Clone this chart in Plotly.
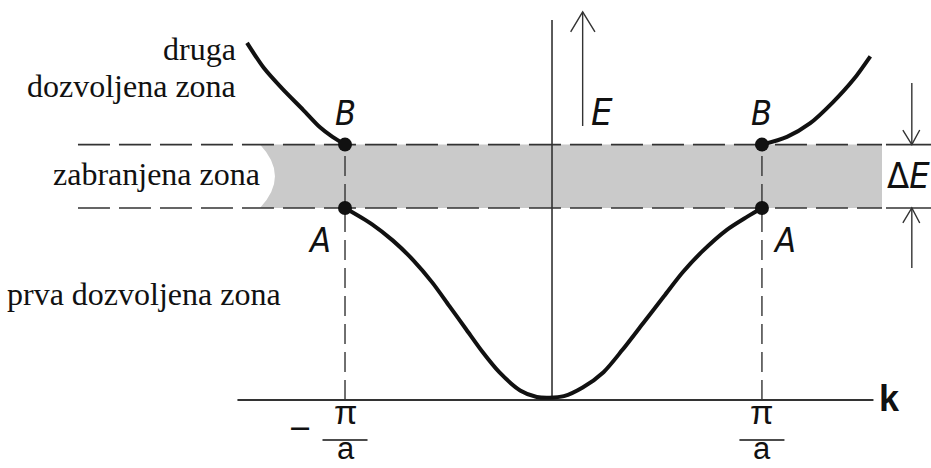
import plotly.graph_objects as go

# Wave vector k in units of pi/a, energy E in units of the top of the first band
k_lower = [-1.00, -0.87, -0.77, -0.67, -0.58, -0.50, -0.42, -0.34, -0.26, -0.16, -0.08, -0.02,
           0.05, 0.14, 0.24, 0.33, 0.43, 0.53, 0.62, 0.71, 0.83, 0.93, 1.00]
E_lower = [1.00, 0.915, 0.83, 0.725, 0.61, 0.49, 0.37, 0.25, 0.145, 0.05, 0.016, 0.012,
           0.02, 0.065, 0.145, 0.26, 0.40, 0.54, 0.665, 0.77, 0.885, 0.955, 1.00]

k_upper_left = [-1.47, -1.39, -1.30, -1.20, -1.12, -1.06, -1.00]
E_upper_left = [1.86, 1.73, 1.62, 1.51, 1.42, 1.37, 1.33]

k_upper_right = [1.00, 1.12, 1.23, 1.34, 1.44, 1.52]
E_upper_right = [1.33, 1.37, 1.44, 1.55, 1.67, 1.79]

E_A = 1.00          # top of the first allowed band
E_B = 1.33          # bottom of the second allowed band
k_edge = [-1.0, 1.0]  # Brillouin zone boundaries

INK = "#111111"
AXIS = "#333333"
SERIF = "Liberation Serif, Times New Roman, serif"
SANS = "Liberation Sans Narrow, DejaVu Sans Condensed, Liberation Sans, sans-serif"

fig = go.Figure()

# first and second allowed bands
for kx, ey in [(k_lower, E_lower), (k_upper_left, E_upper_left), (k_upper_right, E_upper_right)]:
    fig.add_trace(go.Scatter(x=kx, y=ey, mode="lines",
                             line=dict(color=INK, width=4, shape="spline", smoothing=0.8),
                             hoverinfo="skip", showlegend=False))

# band-edge points A and B
fig.add_trace(go.Scatter(x=[k_edge[0], k_edge[0], k_edge[1], k_edge[1]], y=[E_A, E_B, E_A, E_B],
                         mode="markers", marker=dict(color=INK, size=14),
                         hoverinfo="skip", showlegend=False))

shapes = []
# forbidden zone band, rounded where the label sits
shapes.append(dict(type="path", layer="below", line=dict(width=0), fillcolor="#cacaca",
                   path=f"M -1.408,{E_B} Q -1.264,{(E_A + E_B) / 2} -1.408,{E_A} "
                        f"L 1.576,{E_A} L 1.576,{E_B} Z"))
# dashed band-edge levels
for lvl in (E_A, E_B):
    shapes.append(dict(type="line", layer="below", x0=-2.281, x1=1.576, y0=lvl, y1=lvl,
                       line=dict(color=AXIS, width=1.6, dash="32px,9px")))
    shapes.append(dict(type="line", layer="below", x0=1.595, x1=1.82, y0=lvl, y1=lvl,
                       line=dict(color=AXIS, width=1.6)))
# dashed verticals at the zone boundaries
for kb in k_edge:
    shapes.append(dict(type="line", layer="below", x0=kb, x1=kb, y0=0, y1=E_B,
                       line=dict(color=AXIS, width=1.4, dash="20px,8px")))
# k axis and E axis
shapes.append(dict(type="line", layer="below", x0=-1.516, x1=1.535, y0=0, y1=0,
                   line=dict(color=AXIS, width=2)))
shapes.append(dict(type="line", layer="below", x0=-0.007, x1=-0.007, y0=0, y1=1.979,
                   line=dict(color=AXIS, width=1.6)))
# energy direction arrow
shapes.append(dict(type="line", x0=0.140, x1=0.140, y0=1.427, y1=2.021,
                   line=dict(color=AXIS, width=1.4)))
shapes.append(dict(type="path", path="M 0.0825,1.917 L 0.140,2.021 L 0.199,1.917",
                   line=dict(color=AXIS, width=1.4)))
# gap width dimension
shapes.append(dict(type="line", x0=1.719, x1=1.719, y0=E_B, y1=1.651,
                   line=dict(color=AXIS, width=1.4)))
shapes.append(dict(type="path", path=f"M 1.676,1.406 L 1.719,{E_B} L 1.757,1.406",
                   line=dict(color=AXIS, width=1.4)))
shapes.append(dict(type="line", x0=1.719, x1=1.719, y0=E_A, y1=0.6875,
                   line=dict(color=AXIS, width=1.4)))
shapes.append(dict(type="path", path=f"M 1.676,0.922 L 1.719,{E_A} L 1.757,0.922",
                   line=dict(color=AXIS, width=1.4)))
# fraction bars of the pi/a tick labels
BAR_E = -0.208
for kb in k_edge:
    shapes.append(dict(type="line", x0=kb - 0.108, x1=kb + 0.108, y0=BAR_E, y1=BAR_E,
                       line=dict(color=INK, width=1.6)))

ann = []


def label(text, x, y, size, family, xanchor="center", yanchor="middle", style="normal",
          weight="normal"):
    ann.append(dict(text=text, x=x, y=y, xref="x", yref="y", showarrow=False,
                    xanchor=xanchor, yanchor=yanchor,
                    font=dict(size=size, family=family, color=INK, style=style, weight=weight)))


label("druga", -1.513, 1.828, 32, SERIF, xanchor="right")
label("dozvoljena zona", -1.513, 1.635, 32, SERIF, xanchor="right")
label("zabranjena zona", -1.398, 1.177, 32, SERIF, xanchor="right")
label("prva dozvoljena zona", -1.297, 0.552, 32, SERIF, xanchor="right")

label("B", -1.0, 1.495, 34, SANS, style="italic")
label("B", 1.0, 1.495, 34, SANS, style="italic")
label("A", -1.12, 0.833, 34, SANS, style="italic")
label("A", 1.11, 0.833, 34, SANS, style="italic")
label("E", 0.233, 1.50, 38, SANS, style="italic")
label("Δ<i>E</i>", 1.705, 1.167, 36, SANS)
label("k", 1.614, 0.01, 36, "Liberation Sans, Arial, sans-serif", weight="bold")

# pi over a, stacked around the fraction bar
PI_A = ("<span style='font-size:34px;font-family:Liberation Sans'>π</span><br>"
        "<span style='font-size:31px;font-family:Liberation Sans'>a</span>")
for kb in k_edge:
    label(PI_A, kb, -0.354, 27, SANS, yanchor="bottom")
label("−", -1.215, -0.146, 32, SANS)

fig.update_layout(
    width=931, height=468,
    margin=dict(l=0, r=0, t=0, b=0),
    paper_bgcolor="white", plot_bgcolor="white",
    xaxis=dict(range=[-2.655, 1.811], visible=False, fixedrange=True),
    yaxis=dict(range=[-0.354, 2.083], visible=False, fixedrange=True),
    shapes=shapes, annotations=ann,
    showlegend=False,
)

fig.write_html("out.html")
